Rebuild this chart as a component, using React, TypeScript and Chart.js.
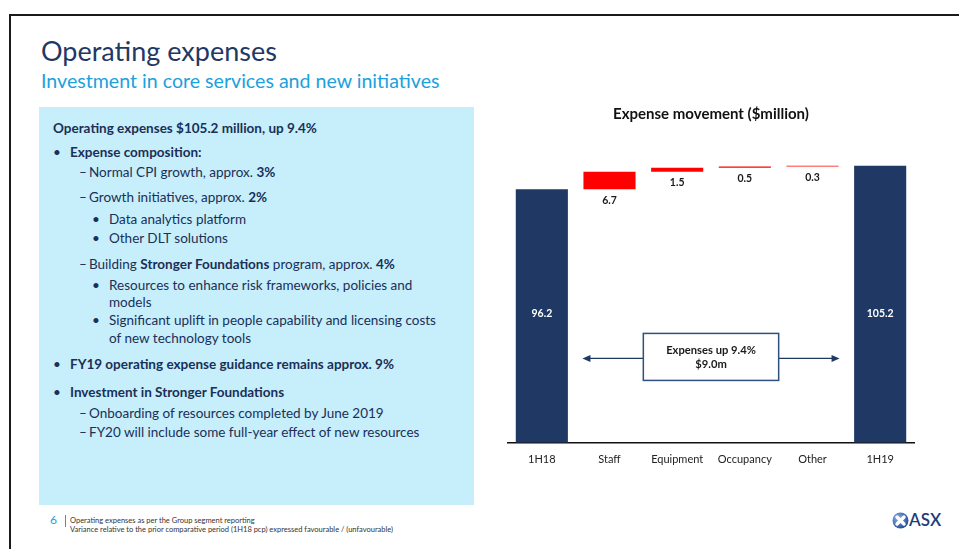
import React, { useEffect, useRef } from "react";
import { Chart, registerables } from "chart.js";

Chart.register(...registerables);

// ---- data ----
const categories = ["1H18", "Staff", "Equipment", "Occupancy", "Other", "1H19"];
const openingValue = [96.2];
const movementValues = [6.7, 1.5, 0.5, 0.3];
const closingValue = [105.2];
const barColors = ["#1F3864", "#FF0000", "#FF0000", "#FF0000", "#FF0000", "#1F3864"];
const calloutLines = ["Expenses up 9.4%", "$9.0m"];
const yTicksMax = [110];

const FONT = "Lato, 'Open Sans', sans-serif";

function buildRanges(): [number, number][] {
  const out: [number, number][] = [[0, openingValue[0]]];
  let run = openingValue[0];
  movementValues.forEach((m) => {
    out.push([run, +(run + m).toFixed(2)]);
    run = +(run + m).toFixed(2);
  });
  out.push([0, closingValue[0]]);
  return out;
}

const ranges = buildRanges();

const waterfallPlugin = {
  id: "waterfallExtras",
  afterDatasetsDraw(chart: any) {
    const ctx = chart.ctx as CanvasRenderingContext2D;
    const meta = chart.getDatasetMeta(0);
    const xs = chart.scales.x;
    const ys = chart.scales.y;
    ctx.save();
    ctx.textAlign = "center";
    ctx.textBaseline = "middle";
    const last = ranges.length - 1;
    meta.data.forEach((bar: any, i: number) => {
      const [lo] = ranges[i];
      if (i === 0 || i === last) {
        ctx.fillStyle = "#ffffff";
        ctx.font = `bold 10.5px ${FONT}`;
        const v = i === 0 ? openingValue[0] : closingValue[0];
        ctx.fillText(v.toFixed(1), bar.x, ys.getPixelForValue(openingValue[0] / 2) - 2);
      } else {
        ctx.fillStyle = "#1a1a1a";
        ctx.font = `bold 10.5px ${FONT}`;
        ctx.fillText(movementValues[i - 1].toFixed(1), bar.x, ys.getPixelForValue(lo) + 11);
      }
    });

    // callout box with arrows
    const mid = (categories.length - 1) / 2;
    const cx = xs.getPixelForValue(mid);
    const halfW = xs.getPixelForValue(mid + 1) - cx;
    const cy = ys.getPixelForValue(32.6);
    const boxH = 47;
    const left = cx - halfW;
    const right = cx + halfW;
    const top = cy - boxH / 2;
    const arrowY = cy + 1.5;
    const tipL = xs.getPixelForValue(mid - 1.9);
    const tipR = xs.getPixelForValue(mid + 1.9);
    const navy = "#1F3864";
    ctx.strokeStyle = navy;
    ctx.lineWidth = 1.3;
    ctx.beginPath();
    ctx.moveTo(tipL + 6, arrowY);
    ctx.lineTo(left, arrowY);
    ctx.moveTo(right, arrowY);
    ctx.lineTo(tipR - 6, arrowY);
    ctx.stroke();
    ctx.fillStyle = navy;
    ctx.beginPath();
    ctx.moveTo(tipL, arrowY);
    ctx.lineTo(tipL + 8, arrowY - 3.5);
    ctx.lineTo(tipL + 8, arrowY + 3.5);
    ctx.closePath();
    ctx.fill();
    ctx.beginPath();
    ctx.moveTo(tipR, arrowY);
    ctx.lineTo(tipR - 8, arrowY - 3.5);
    ctx.lineTo(tipR - 8, arrowY + 3.5);
    ctx.closePath();
    ctx.fill();
    ctx.fillStyle = "#ffffff";
    ctx.fillRect(left, top, right - left, boxH);
    ctx.strokeStyle = "#2F4F7F";
    ctx.lineWidth = 1.5;
    ctx.strokeRect(left, top, right - left, boxH);
    ctx.fillStyle = "#1a1a1a";
    ctx.font = `bold 11.2px ${FONT}`;
    ctx.fillText(calloutLines[0], cx, cy - 6.5);
    ctx.fillText(calloutLines[1], cx, cy + 7.5);
    ctx.restore();
  },
};

function WaterfallChart() {
  const ref = useRef<HTMLCanvasElement | null>(null);
  useEffect(() => {
    if (!ref.current) return;
    const chart = new Chart(ref.current, {
      type: "bar",
      data: {
        labels: categories,
        datasets: [
          {
            data: ranges as any,
            backgroundColor: barColors,
            borderWidth: 0,
            barPercentage: 0.77,
            categoryPercentage: 1,
          },
        ],
      },
      options: {
        animation: false,
        responsive: false,
        maintainAspectRatio: false,
        layout: { padding: { left: 8, right: 26, top: 0, bottom: 0 } },
        plugins: {
          legend: { display: false },
          tooltip: { enabled: false },
          title: {
            display: true,
            text: "Expense movement ($million)",
            color: "#111111",
            font: { family: FONT, size: 15, weight: "bold" },
            padding: { top: 10, bottom: 30 },
          },
        },
        scales: {
          x: {
            grid: { display: false, drawTicks: false },
            border: { display: true, color: "#111111", width: 1.5 },
            ticks: { color: "#222222", font: { family: FONT, size: 11 }, padding: 10 },
          },
          y: { display: false, min: 0, max: yTicksMax[0] },
        },
      },
      plugins: [waterfallPlugin],
    });
    return () => chart.destroy();
  }, []);
  return (
    <canvas
      ref={ref}
      width={440}
      height={381}
      style={{ position: "absolute", left: 500, top: 95, width: 440, height: 381 }}
    />
  );
}

type Seg = { t: string; b?: boolean };
type Line = { y: number; marker?: string; mx?: number; x: number; segs: Seg[] };

const bodyLines: Line[] = [
  { y: 129, x: 53, segs: [{ t: "Operating expenses $105.2 million, up 9.4%", b: true }] },
  { y: 153, marker: "•", mx: 53, x: 70, segs: [{ t: "Expense composition:", b: true }] },
  { y: 173, marker: "–", mx: 79, x: 89, segs: [{ t: "Normal CPI growth, approx. " }, { t: "3%", b: true }] },
  { y: 198, marker: "–", mx: 79, x: 89, segs: [{ t: "Growth initiatives, approx. " }, { t: "2%", b: true }] },
  { y: 220, marker: "•", mx: 92, x: 109, segs: [{ t: "Data analytics platform" }] },
  { y: 239, marker: "•", mx: 92, x: 109, segs: [{ t: "Other DLT solutions" }] },
  {
    y: 265,
    marker: "–",
    mx: 79,
    x: 89,
    segs: [{ t: "Building " }, { t: "Stronger Foundations", b: true }, { t: " program, approx. " }, { t: "4%", b: true }],
  },
  { y: 286, marker: "•", mx: 92, x: 109, segs: [{ t: "Resources to enhance risk frameworks, policies and" }] },
  { y: 303, x: 109, segs: [{ t: "models" }] },
  { y: 321, marker: "•", mx: 92, x: 109, segs: [{ t: "Significant uplift in people capability and licensing costs" }] },
  { y: 339, x: 109, segs: [{ t: "of new technology tools" }] },
  { y: 365, marker: "•", mx: 53, x: 70, segs: [{ t: "FY19 operating expense guidance remains approx. 9%", b: true }] },
  { y: 393, marker: "•", mx: 53, x: 70, segs: [{ t: "Investment in Stronger Foundations", b: true }] },
  { y: 414, marker: "–", mx: 79, x: 89, segs: [{ t: "Onboarding of resources completed by June 2019" }] },
  { y: 433, marker: "–", mx: 79, x: 89, segs: [{ t: "FY20 will include some full-year effect of new resources" }] },
];

const BODY_FS = 13.5;
const TEXT_NAVY = "#1B2F57";

function abs(left: number, top: number, extra: React.CSSProperties = {}): React.CSSProperties {
  return { position: "absolute", left, top, whiteSpace: "nowrap", ...extra };
}

export default function App() {
  return (
    <div
      style={{
        position: "absolute",
        left: 0,
        top: 0,
        width: 959,
        height: 549,
        background: "#ffffff",
        overflow: "hidden",
        fontFamily: FONT,
      }}
    >
      <div
        style={{
          position: "absolute",
          left: 9,
          top: 14,
          width: 970,
          height: 560,
          borderTop: "2px solid #1a1a1a",
          borderLeft: "2px solid #1a1a1a",
        }}
      />
      <div style={abs(41, 52 - 0.627 * 27, { fontSize: 27, lineHeight: 1.2, color: "#1F3864" })}>
        Operating expenses
      </div>
      <div style={abs(41, 81.5 - 0.627 * 19.6, { fontSize: 19.6, lineHeight: 1.2, color: "#1BA1DD" })}>
        Investment in core services and new initiatives
      </div>
      <div style={{ position: "absolute", left: 39, top: 107, width: 435, height: 398, background: "#C6EEFB" }} />
      {bodyLines.map((ln, i) => (
        <React.Fragment key={i}>
          {ln.marker && (
            <div style={abs(ln.mx!, ln.y - 9, { fontSize: BODY_FS, lineHeight: 1.2, color: TEXT_NAVY })}>
              {ln.marker}
            </div>
          )}
          <div style={abs(ln.x, ln.y - 9, { fontSize: BODY_FS, lineHeight: 1.2, color: TEXT_NAVY })}>
            {ln.segs.map((s, j) => (
              <span key={j} style={{ fontWeight: s.b ? 700 : 400 }}>
                {s.t}
              </span>
            ))}
          </div>
        </React.Fragment>
      ))}
      <div style={abs(50, 521 - 0.627 * 12, { fontSize: 12, lineHeight: 1.2, color: "#1BA1DD" })}>6</div>
      <div style={{ position: "absolute", left: 65, top: 515, width: 1, height: 12, background: "#1BA1DD" }} />
      <div style={abs(70, 516, { fontSize: 7.5, lineHeight: "9px", color: "#333333" })}>
        Operating expenses as per the Group segment reporting
        <br />
        Variance relative to the prior comparative period (1H18 pcp) expressed favourable / (unfavourable)
      </div>
      <svg width={17} height={17} style={{ position: "absolute", left: 892, top: 512 }}>
        <defs>
          <radialGradient id="asxg" cx="35%" cy="35%" r="70%">
            <stop offset="0" stopColor="#8DB0E0" />
            <stop offset="1" stopColor="#1F4E9A" />
          </radialGradient>
        </defs>
        <circle cx={8.5} cy={8.5} r={8} fill="url(#asxg)" />
        <path d="M5 5 L12 12 M12 5 L5 12" stroke="#ffffff" strokeWidth={3.4} strokeLinecap="round" />
      </svg>
      <div style={abs(909, 521 - 0.627 * 17, { fontSize: 17, lineHeight: 1.2, color: "#1F3D7A", fontWeight: 600 })}>
        ASX
      </div>
      <WaterfallChart />
    </div>
  );
}
